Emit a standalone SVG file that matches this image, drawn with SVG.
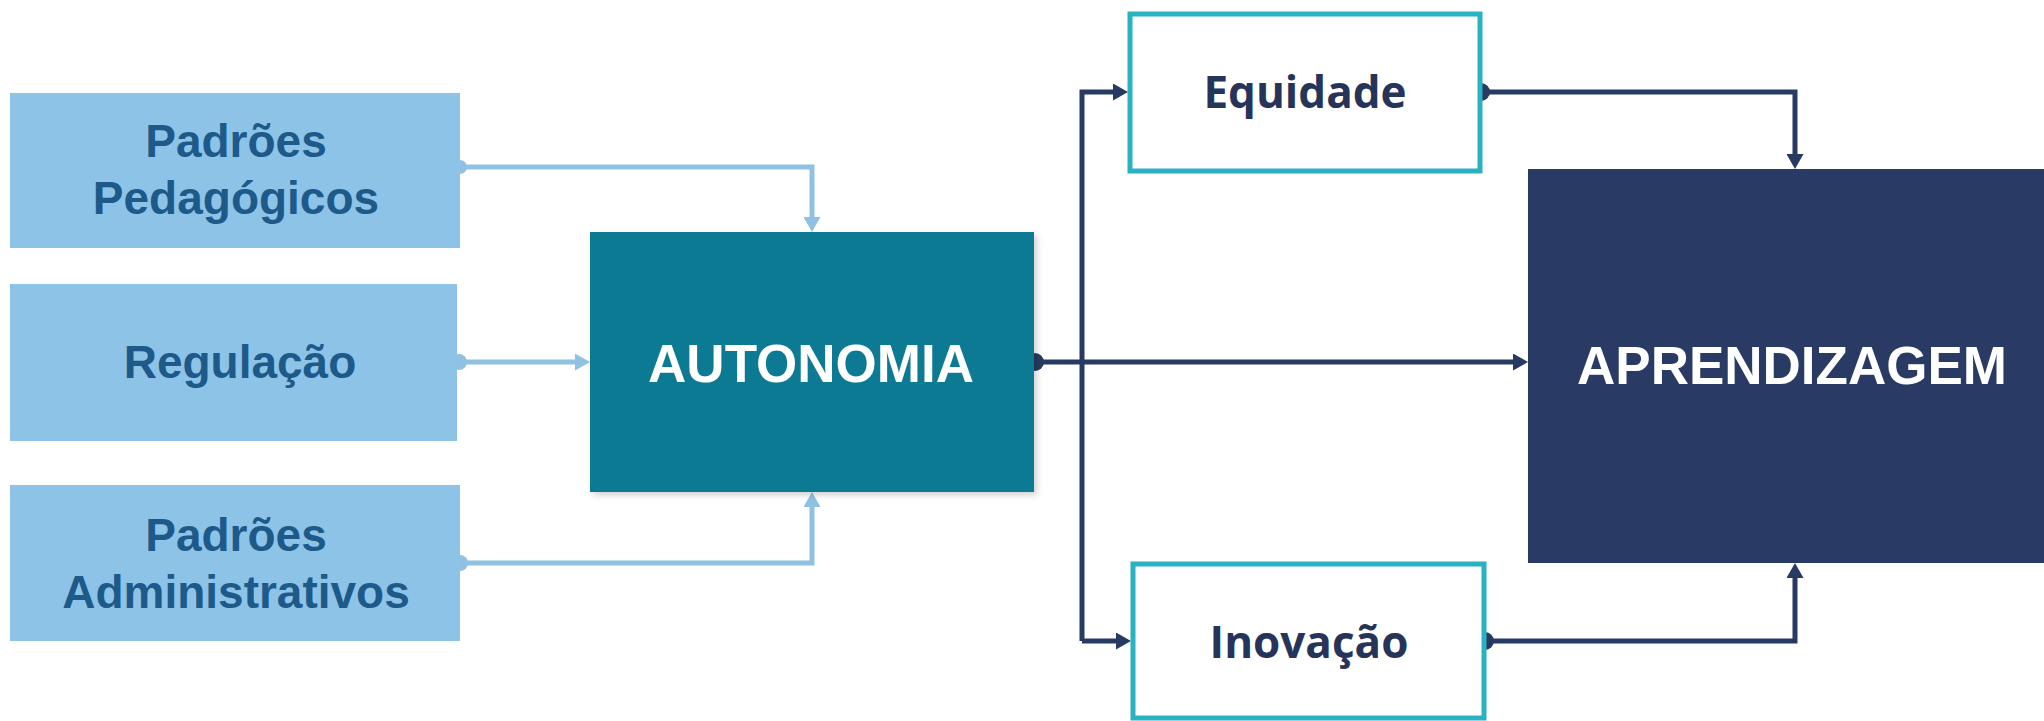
<svg xmlns="http://www.w3.org/2000/svg" width="2044" height="721" viewBox="0 0 2044 721">
  <defs>
    <marker id="arrNavy" viewBox="0 0 15 17" refX="7" refY="8.5" markerWidth="15" markerHeight="17" markerUnits="userSpaceOnUse" orient="auto">
      <path d="M0,0 L15,8.5 L0,17 Z" fill="#273A63"/>
    </marker>
    <marker id="arrLight" viewBox="0 0 15 17" refX="7" refY="8.5" markerWidth="15" markerHeight="17" markerUnits="userSpaceOnUse" orient="auto">
      <path d="M0,0 L15,8.5 L0,17 Z" fill="#8FC1E2"/>
    </marker>
    <filter id="shadow" x="-5%" y="-5%" width="112%" height="112%">
      <feDropShadow dx="3" dy="3" stdDeviation="3" flood-color="#000" flood-opacity="0.18"/>
    </filter>
  </defs>
  <style>
    .src { fill: #8DC3E7; }
    .srcText { font-family: "Liberation Sans", Arial, sans-serif; font-weight: bold; font-size: 46px; fill: #1E5A89; text-anchor: middle; }
    .bigText { font-family: "Liberation Sans", Arial, sans-serif; font-weight: bold; font-size: 53px; fill: #FFFFFF; text-anchor: middle; }
    .outBox { fill: #FFFFFF; stroke: #29B2C1; stroke-width: 5; }
    .outText { font-family: "Open Sans", "Noto Sans", sans-serif; font-weight: bold; font-size: 44px; fill: #263459; text-anchor: middle; }
    .lightLine { fill: none; stroke: #8FC1E2; stroke-width: 5; }
    .navyLine { fill: none; stroke: #273A63; stroke-width: 5; }
  </style>
  <rect width="2044" height="721" fill="#FFFFFF"/>

  <g id="connectors">
    <!-- light blue inputs -->
    <circle cx="460" cy="167" r="7" fill="#8FC1E2"/>
    <path class="lightLine" d="M460,167 H812 V224" marker-end="url(#arrLight)"/>
    <circle cx="459" cy="362" r="8" fill="#8FC1E2"/>
    <path class="lightLine" d="M459,362 H582" marker-end="url(#arrLight)"/>
    <circle cx="460" cy="563" r="8" fill="#8FC1E2"/>
    <path class="lightLine" d="M460,563 H812 V500" marker-end="url(#arrLight)"/>
    <!-- navy outputs -->
    <circle cx="1035" cy="362" r="9" fill="#273A63"/>
    <path class="navyLine" d="M1035,362 H1520" marker-end="url(#arrNavy)"/>
    <path class="navyLine" d="M1082,641 V92 H1120" marker-end="url(#arrNavy)"/>
    <path class="navyLine" d="M1082,641 H1123" marker-end="url(#arrNavy)"/>
    <circle cx="1481" cy="92" r="9" fill="#273A63"/>
    <path class="navyLine" d="M1481,92 H1795 V161" marker-end="url(#arrNavy)"/>
    <circle cx="1485" cy="641" r="9" fill="#273A63"/>
    <path class="navyLine" d="M1485,641 H1795 V571" marker-end="url(#arrNavy)"/>
  </g>

  <g id="node-padroes-pedagogicos">
    <rect class="src" x="10" y="93" width="450" height="155"/>
    <text class="srcText" x="236" y="157">Padrões</text>
    <text class="srcText" x="236" y="214">Pedagógicos</text>
  </g>
  <g id="node-regulacao">
    <rect class="src" x="10" y="284" width="447" height="157"/>
    <text class="srcText" x="240" y="378">Regulação</text>
  </g>
  <g id="node-padroes-administrativos">
    <rect class="src" x="10" y="485" width="450" height="156"/>
    <text class="srcText" x="236" y="551">Padrões</text>
    <text class="srcText" x="236" y="608">Administrativos</text>
  </g>

  <g id="node-autonomia">
    <rect x="590" y="232" width="444" height="260" fill="#087A94" filter="url(#shadow)"/>
    <text class="bigText" x="811" y="382">AUTONOMIA</text>
  </g>

  <g id="node-equidade">
    <rect class="outBox" x="1130" y="14" width="350" height="157"/>
    <text class="outText" x="1305" y="108">Equidade</text>
  </g>
  <g id="node-inovacao">
    <rect class="outBox" x="1133" y="564" width="351" height="154"/>
    <text class="outText" x="1309" y="658">Inovação</text>
  </g>

  <g id="node-aprendizagem">
    <rect x="1528" y="169" width="520" height="394" fill="#293A64"/>
    <text class="bigText" x="1792" y="384">APRENDIZAGEM</text>
  </g>
</svg>
